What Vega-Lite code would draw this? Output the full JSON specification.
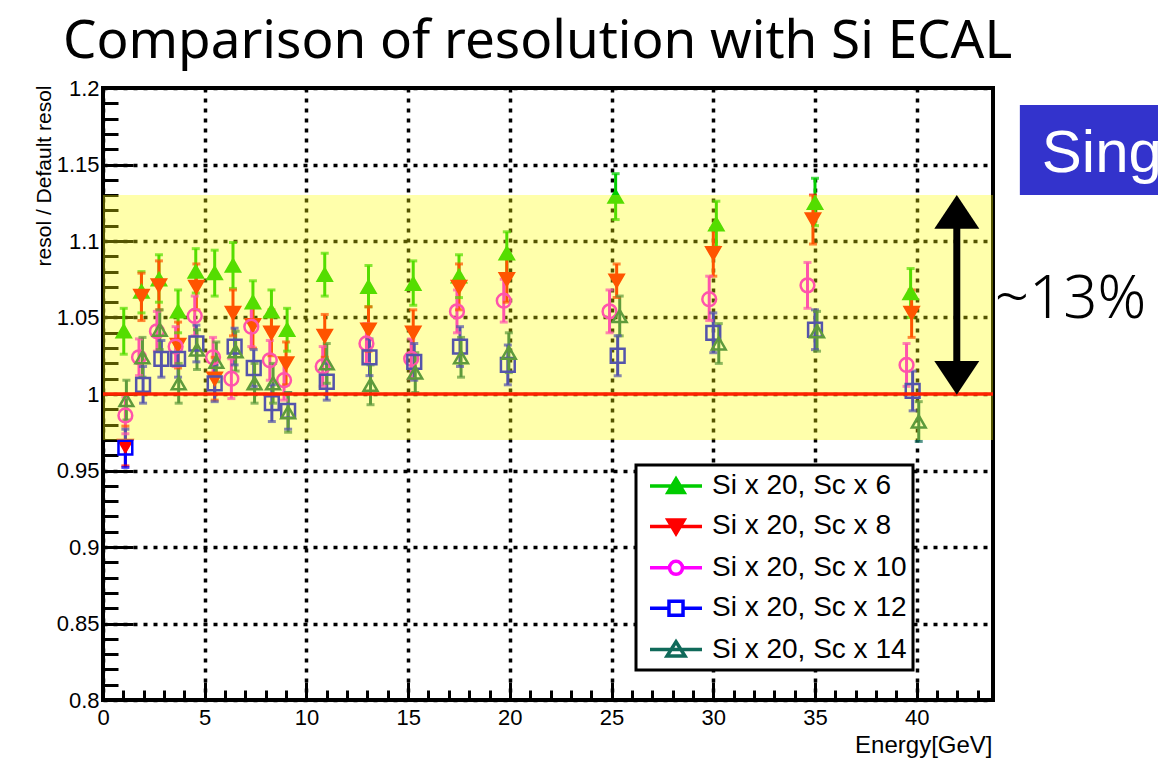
{
  "$schema": "https://vega.github.io/schema/vega-lite/v6.json",
  "width": 890,
  "height": 612,
  "autosize": {"type": "none"},
  "padding": {"left": 103, "top": 88, "right": 165, "bottom": 68},
  "background": "white",
  "title": {
    "text": "Comparison of resolution with Si ECAL",
    "anchor": "start",
    "frame": "group",
    "dx": -40,
    "offset": 8,
    "font": "Noto Sans",
    "fontSize": 53,
    "fontWeight": "normal",
    "color": "black"
  },
  "config": {
    "view": {"stroke": "black", "strokeWidth": 4},
    "font": "Liberation Sans",
    "legend": {
      "orient": "none",
      "legendX": 533,
      "legendY": 377,
      "padding": 6,
      "fillColor": "white",
      "strokeColor": "black",
      "strokeWidth": 3,
      "labelFont": "Liberation Sans",
      "labelFontSize": 28,
      "labelColor": "black",
      "labelLimit": 400,
      "symbolSize": 676,
      "symbolStrokeWidth": 3.5,
      "symbolOffset": 19,
      "labelOffset": 21,
      "rowPadding": 11.4
    }
  },
  "datasets": {
    "pts": [
      {"s": "Si x 20, Sc x 6", "e": 1.02, "r": 1.041, "lo": 1.026, "hi": 1.056},
      {"s": "Si x 20, Sc x 6", "e": 1.89, "r": 1.067, "lo": 1.053, "hi": 1.080},
      {"s": "Si x 20, Sc x 6", "e": 2.75, "r": 1.075, "lo": 1.060, "hi": 1.091},
      {"s": "Si x 20, Sc x 6", "e": 3.69, "r": 1.054, "lo": 1.040, "hi": 1.068},
      {"s": "Si x 20, Sc x 6", "e": 4.56, "r": 1.080, "lo": 1.066, "hi": 1.095},
      {"s": "Si x 20, Sc x 6", "e": 5.49, "r": 1.079, "lo": 1.064, "hi": 1.094},
      {"s": "Si x 20, Sc x 6", "e": 6.39, "r": 1.084, "lo": 1.069, "hi": 1.099},
      {"s": "Si x 20, Sc x 6", "e": 7.37, "r": 1.060, "lo": 1.045, "hi": 1.074},
      {"s": "Si x 20, Sc x 6", "e": 8.28, "r": 1.054, "lo": 1.040, "hi": 1.068},
      {"s": "Si x 20, Sc x 6", "e": 9.05, "r": 1.042, "lo": 1.028, "hi": 1.056},
      {"s": "Si x 20, Sc x 6", "e": 10.9, "r": 1.078, "lo": 1.064, "hi": 1.092},
      {"s": "Si x 20, Sc x 6", "e": 13.05, "r": 1.070, "lo": 1.057, "hi": 1.084},
      {"s": "Si x 20, Sc x 6", "e": 15.25, "r": 1.072, "lo": 1.058, "hi": 1.087},
      {"s": "Si x 20, Sc x 6", "e": 17.5, "r": 1.077, "lo": 1.063, "hi": 1.091},
      {"s": "Si x 20, Sc x 6", "e": 19.85, "r": 1.092, "lo": 1.078, "hi": 1.106},
      {"s": "Si x 20, Sc x 6", "e": 25.2, "r": 1.129, "lo": 1.114, "hi": 1.144},
      {"s": "Si x 20, Sc x 6", "e": 30.15, "r": 1.111, "lo": 1.096, "hi": 1.126},
      {"s": "Si x 20, Sc x 6", "e": 35.0, "r": 1.125, "lo": 1.110, "hi": 1.141},
      {"s": "Si x 20, Sc x 6", "e": 39.7, "r": 1.066, "lo": 1.050, "hi": 1.082},

      {"s": "Si x 20, Sc x 8", "e": 1.1, "r": 0.966, "lo": 0.953, "hi": 0.979},
      {"s": "Si x 20, Sc x 8", "e": 1.89, "r": 1.064, "lo": 1.048, "hi": 1.079},
      {"s": "Si x 20, Sc x 8", "e": 2.75, "r": 1.071, "lo": 1.055, "hi": 1.087},
      {"s": "Si x 20, Sc x 8", "e": 3.69, "r": 1.032, "lo": 1.017, "hi": 1.047},
      {"s": "Si x 20, Sc x 8", "e": 4.59, "r": 1.070, "lo": 1.055, "hi": 1.085},
      {"s": "Si x 20, Sc x 8", "e": 5.49, "r": 1.010, "lo": 0.996, "hi": 1.024},
      {"s": "Si x 20, Sc x 8", "e": 6.39, "r": 1.053, "lo": 1.038, "hi": 1.068},
      {"s": "Si x 20, Sc x 8", "e": 7.37, "r": 1.045, "lo": 1.030, "hi": 1.060},
      {"s": "Si x 20, Sc x 8", "e": 8.28, "r": 1.040, "lo": 1.025, "hi": 1.055},
      {"s": "Si x 20, Sc x 8", "e": 9.0, "r": 1.020, "lo": 1.006, "hi": 1.034},
      {"s": "Si x 20, Sc x 8", "e": 10.9, "r": 1.038, "lo": 1.024, "hi": 1.052},
      {"s": "Si x 20, Sc x 8", "e": 13.05, "r": 1.042, "lo": 1.028, "hi": 1.057},
      {"s": "Si x 20, Sc x 8", "e": 15.25, "r": 1.040, "lo": 1.026, "hi": 1.055},
      {"s": "Si x 20, Sc x 8", "e": 17.5, "r": 1.070, "lo": 1.055, "hi": 1.085},
      {"s": "Si x 20, Sc x 8", "e": 19.85, "r": 1.075, "lo": 1.060, "hi": 1.090},
      {"s": "Si x 20, Sc x 8", "e": 25.25, "r": 1.074, "lo": 1.063, "hi": 1.085},
      {"s": "Si x 20, Sc x 8", "e": 30.0, "r": 1.092, "lo": 1.077, "hi": 1.108},
      {"s": "Si x 20, Sc x 8", "e": 34.9, "r": 1.114, "lo": 1.098, "hi": 1.130},
      {"s": "Si x 20, Sc x 8", "e": 39.75, "r": 1.053, "lo": 1.037, "hi": 1.068},

      {"s": "Si x 20, Sc x 10", "e": 1.1, "r": 0.986, "lo": 0.974, "hi": 0.998},
      {"s": "Si x 20, Sc x 10", "e": 1.77, "r": 1.024, "lo": 1.012, "hi": 1.036},
      {"s": "Si x 20, Sc x 10", "e": 2.65, "r": 1.041, "lo": 1.028, "hi": 1.054},
      {"s": "Si x 20, Sc x 10", "e": 3.57, "r": 1.031, "lo": 1.018, "hi": 1.044},
      {"s": "Si x 20, Sc x 10", "e": 4.51, "r": 1.051, "lo": 1.038, "hi": 1.064},
      {"s": "Si x 20, Sc x 10", "e": 5.41, "r": 1.024, "lo": 1.011, "hi": 1.037},
      {"s": "Si x 20, Sc x 10", "e": 6.31, "r": 1.010, "lo": 0.997, "hi": 1.023},
      {"s": "Si x 20, Sc x 10", "e": 7.29, "r": 1.044, "lo": 1.031, "hi": 1.057},
      {"s": "Si x 20, Sc x 10", "e": 8.2, "r": 1.022, "lo": 1.009, "hi": 1.035},
      {"s": "Si x 20, Sc x 10", "e": 8.9, "r": 1.009, "lo": 0.996, "hi": 1.022},
      {"s": "Si x 20, Sc x 10", "e": 10.8, "r": 1.018, "lo": 1.005, "hi": 1.031},
      {"s": "Si x 20, Sc x 10", "e": 12.95, "r": 1.033, "lo": 1.020, "hi": 1.046},
      {"s": "Si x 20, Sc x 10", "e": 15.15, "r": 1.023, "lo": 1.010, "hi": 1.036},
      {"s": "Si x 20, Sc x 10", "e": 17.4, "r": 1.054, "lo": 1.040, "hi": 1.068},
      {"s": "Si x 20, Sc x 10", "e": 19.7, "r": 1.061, "lo": 1.047, "hi": 1.075},
      {"s": "Si x 20, Sc x 10", "e": 24.9, "r": 1.054, "lo": 1.040, "hi": 1.068},
      {"s": "Si x 20, Sc x 10", "e": 29.8, "r": 1.062, "lo": 1.048, "hi": 1.077},
      {"s": "Si x 20, Sc x 10", "e": 34.63, "r": 1.071, "lo": 1.056, "hi": 1.086},
      {"s": "Si x 20, Sc x 10", "e": 39.5, "r": 1.019, "lo": 1.005, "hi": 1.033},

      {"s": "Si x 20, Sc x 12", "e": 1.1, "r": 0.965, "lo": 0.952, "hi": 0.977},
      {"s": "Si x 20, Sc x 12", "e": 1.97, "r": 1.006, "lo": 0.994, "hi": 1.018},
      {"s": "Si x 20, Sc x 12", "e": 2.87, "r": 1.023, "lo": 1.011, "hi": 1.035},
      {"s": "Si x 20, Sc x 12", "e": 3.69, "r": 1.023, "lo": 1.011, "hi": 1.035},
      {"s": "Si x 20, Sc x 12", "e": 4.59, "r": 1.033, "lo": 1.021, "hi": 1.045},
      {"s": "Si x 20, Sc x 12", "e": 5.49, "r": 1.007, "lo": 0.995, "hi": 1.019},
      {"s": "Si x 20, Sc x 12", "e": 6.47, "r": 1.031, "lo": 1.019, "hi": 1.043},
      {"s": "Si x 20, Sc x 12", "e": 7.41, "r": 1.017, "lo": 1.005, "hi": 1.029},
      {"s": "Si x 20, Sc x 12", "e": 8.3, "r": 0.994, "lo": 0.982, "hi": 1.006},
      {"s": "Si x 20, Sc x 12", "e": 9.1, "r": 0.989, "lo": 0.977, "hi": 1.001},
      {"s": "Si x 20, Sc x 12", "e": 11.0, "r": 1.008, "lo": 0.996, "hi": 1.020},
      {"s": "Si x 20, Sc x 12", "e": 13.1, "r": 1.024, "lo": 1.012, "hi": 1.036},
      {"s": "Si x 20, Sc x 12", "e": 15.3, "r": 1.021, "lo": 1.009, "hi": 1.033},
      {"s": "Si x 20, Sc x 12", "e": 17.55, "r": 1.031, "lo": 1.018, "hi": 1.044},
      {"s": "Si x 20, Sc x 12", "e": 19.9, "r": 1.019, "lo": 1.006, "hi": 1.032},
      {"s": "Si x 20, Sc x 12", "e": 25.3, "r": 1.025, "lo": 1.012, "hi": 1.038},
      {"s": "Si x 20, Sc x 12", "e": 30.0, "r": 1.040, "lo": 1.027, "hi": 1.053},
      {"s": "Si x 20, Sc x 12", "e": 35.0, "r": 1.042, "lo": 1.029, "hi": 1.055},
      {"s": "Si x 20, Sc x 12", "e": 39.8, "r": 1.002, "lo": 0.989, "hi": 1.015},

      {"s": "Si x 20, Sc x 14", "e": 1.15, "r": 0.996, "lo": 0.983, "hi": 1.009},
      {"s": "Si x 20, Sc x 14", "e": 1.94, "r": 1.024, "lo": 1.011, "hi": 1.037},
      {"s": "Si x 20, Sc x 14", "e": 2.79, "r": 1.042, "lo": 1.029, "hi": 1.055},
      {"s": "Si x 20, Sc x 14", "e": 3.72, "r": 1.007, "lo": 0.994, "hi": 1.020},
      {"s": "Si x 20, Sc x 14", "e": 4.62, "r": 1.029, "lo": 1.016, "hi": 1.042},
      {"s": "Si x 20, Sc x 14", "e": 5.57, "r": 1.021, "lo": 1.008, "hi": 1.034},
      {"s": "Si x 20, Sc x 14", "e": 6.52, "r": 1.028, "lo": 1.015, "hi": 1.041},
      {"s": "Si x 20, Sc x 14", "e": 7.45, "r": 1.007, "lo": 0.994, "hi": 1.020},
      {"s": "Si x 20, Sc x 14", "e": 8.36, "r": 1.007, "lo": 0.994, "hi": 1.020},
      {"s": "Si x 20, Sc x 14", "e": 9.1, "r": 0.988, "lo": 0.975, "hi": 1.001},
      {"s": "Si x 20, Sc x 14", "e": 11.0, "r": 1.020, "lo": 1.007, "hi": 1.033},
      {"s": "Si x 20, Sc x 14", "e": 13.15, "r": 1.006, "lo": 0.993, "hi": 1.019},
      {"s": "Si x 20, Sc x 14", "e": 15.35, "r": 1.014, "lo": 1.001, "hi": 1.027},
      {"s": "Si x 20, Sc x 14", "e": 17.6, "r": 1.024, "lo": 1.011, "hi": 1.037},
      {"s": "Si x 20, Sc x 14", "e": 19.95, "r": 1.027, "lo": 1.014, "hi": 1.040},
      {"s": "Si x 20, Sc x 14", "e": 25.4, "r": 1.051, "lo": 1.038, "hi": 1.064},
      {"s": "Si x 20, Sc x 14", "e": 30.27, "r": 1.033, "lo": 1.020, "hi": 1.046},
      {"s": "Si x 20, Sc x 14", "e": 35.1, "r": 1.041, "lo": 1.028, "hi": 1.054},
      {"s": "Si x 20, Sc x 14", "e": 40.1, "r": 0.982, "lo": 0.969, "hi": 0.995}
    ]
  },
  "layer": [
    {
      "data": {"name": "pts"},
      "mark": {"type": "rule", "strokeWidth": 3},
      "encoding": {
        "x": {"field": "e", "type": "quantitative", "scale": {"domain": [0, 43.75], "nice": false, "zero": false},
          "axis": {"orient": "bottom", "values": [1,2,3,4,6,7,8,9,11,12,13,14,16,17,18,19,21,22,23,24,26,27,28,29,31,32,33,34,36,37,38,39,41,42,43],
            "tickSize": -10, "tickWidth": 3, "tickColor": "black", "labels": false, "domain": false, "grid": false, "title": null}},
        "y": {"field": "lo", "type": "quantitative", "scale": {"domain": [0.8, 1.2], "nice": false, "zero": false},
          "axis": {"orient": "left", "values": [0.81,0.82,0.83,0.84,0.86,0.87,0.88,0.89,0.91,0.92,0.93,0.94,0.96,0.97,0.98,0.99,1.01,1.02,1.03,1.04,1.06,1.07,1.08,1.09,1.11,1.12,1.13,1.14,1.16,1.17,1.18,1.19],
            "tickSize": -15, "tickWidth": 3, "tickColor": "black", "labels": false, "domain": false, "grid": false, "title": null}},
        "y2": {"field": "hi"},
        "stroke": {"field": "s", "type": "nominal", "legend": null,
          "scale": {"domain": ["Si x 20, Sc x 6", "Si x 20, Sc x 8", "Si x 20, Sc x 10", "Si x 20, Sc x 12", "Si x 20, Sc x 14"],
            "range": ["#00cc00", "#ff0000", "#ff00ff", "#0000ff", "#106a5a"]}}
      }
    },
    {
      "data": {"name": "pts"},
      "mark": {"type": "tick", "orient": "horizontal", "size": 8, "thickness": 3},
      "encoding": {
        "x": {"field": "e", "type": "quantitative", "axis": null},
        "y": {"field": "lo", "type": "quantitative", "axis": null},
        "color": {"field": "s", "type": "nominal", "legend": null,
          "scale": {"domain": ["Si x 20, Sc x 6", "Si x 20, Sc x 8", "Si x 20, Sc x 10", "Si x 20, Sc x 12", "Si x 20, Sc x 14"],
            "range": ["#00cc00", "#ff0000", "#ff00ff", "#0000ff", "#106a5a"]}}
      }
    },
    {
      "data": {"name": "pts"},
      "mark": {"type": "tick", "orient": "horizontal", "size": 8, "thickness": 3},
      "encoding": {
        "x": {"field": "e", "type": "quantitative", "axis": null},
        "y": {"field": "hi", "type": "quantitative", "axis": null},
        "color": {"field": "s", "type": "nominal", "legend": null,
          "scale": {"domain": ["Si x 20, Sc x 6", "Si x 20, Sc x 8", "Si x 20, Sc x 10", "Si x 20, Sc x 12", "Si x 20, Sc x 14"],
            "range": ["#00cc00", "#ff0000", "#ff00ff", "#0000ff", "#106a5a"]}}
      }
    },
    {
      "data": {"name": "pts"},
      "mark": {"type": "point", "size": 190, "strokeWidth": 2.5, "opacity": 1},
      "encoding": {
        "x": {"field": "e", "type": "quantitative",
          "axis": {"orient": "bottom", "values": [0,5,10,15,20,25,30,35,40], "format": "d",
            "tickSize": -18, "tickWidth": 3, "tickColor": "black", "domain": false,
            "grid": true, "gridColor": "black", "gridWidth": 3.5, "gridDash": [4, 6],
            "labelFont": "Liberation Sans", "labelFontSize": 22, "labelColor": "black", "labelPadding": 25,
            "labelFlush": false, "labelOverlap": false,
            "title": "Energy[GeV]", "titleFont": "Liberation Sans", "titleFontSize": 24, "titleFontWeight": "normal",
            "titleColor": "black", "titleX": 889, "titleY": 45, "titleAlign": "right", "titleBaseline": "middle"}},
        "y": {"field": "r", "type": "quantitative",
          "axis": {"orient": "left", "values": [0.8,0.85,0.9,0.95,1,1.05,1.1,1.15,1.2], "format": "~g",
            "tickSize": -30, "tickWidth": 3, "tickColor": "black", "domain": false,
            "grid": true, "gridColor": "black", "gridWidth": 3.5, "gridDash": [4, 6],
            "labelFont": "Liberation Sans", "labelFontSize": 22, "labelColor": "black", "labelPadding": 34,
            "labelFlush": false, "labelOverlap": false, "labelBaseline": "middle",
            "title": "resol / Default resol", "titleFont": "Liberation Sans", "titleFontSize": 21, "titleFontWeight": "normal",
            "titleColor": "black", "titleAngle": 270, "titleX": -59, "titleY": -3, "titleAlign": "right", "titleBaseline": "middle"}},
        "shape": {"field": "s", "type": "nominal", "legend": null,
          "scale": {"domain": ["Si x 20, Sc x 6", "Si x 20, Sc x 8", "Si x 20, Sc x 10", "Si x 20, Sc x 12", "Si x 20, Sc x 14"],
            "range": ["triangle-up", "triangle-down", "circle", "square", "triangle-up"]}},
        "stroke": {"field": "s", "type": "nominal", "legend": null,
          "scale": {"domain": ["Si x 20, Sc x 6", "Si x 20, Sc x 8", "Si x 20, Sc x 10", "Si x 20, Sc x 12", "Si x 20, Sc x 14"],
            "range": ["#00cc00", "#ff0000", "#ff00ff", "#0000ff", "#106a5a"]}},
        "fill": {"field": "s", "type": "nominal", "legend": null,
          "scale": {"domain": ["Si x 20, Sc x 6", "Si x 20, Sc x 8", "Si x 20, Sc x 10", "Si x 20, Sc x 12", "Si x 20, Sc x 14"],
            "range": ["#00cc00", "#ff0000", "transparent", "transparent", "transparent"]}}
      }
    },
    {
      "data": {"values": [{}]},
      "mark": {"type": "rect", "color": "#ffff00", "opacity": 0.33},
      "encoding": {
        "x": {"datum": 0, "type": "quantitative", "axis": null},
        "x2": {"datum": 43.75},
        "y": {"datum": 0.97, "type": "quantitative", "axis": null},
        "y2": {"datum": 1.13}
      }
    },
    {
      "data": {"values": [{}]},
      "mark": {"type": "rule", "color": "#ff2200", "strokeWidth": 3.5},
      "encoding": {"y": {"datum": 1, "type": "quantitative", "axis": null}}
    },
    {
      "data": {"values": [{}]},
      "mark": {"type": "rule", "color": "black", "strokeWidth": 7},
      "encoding": {
        "x": {"datum": 41.97, "type": "quantitative", "axis": null},
        "y": {"datum": 1.012, "type": "quantitative", "axis": null},
        "y2": {"datum": 1.118}
      }
    },
    {
      "data": {"values": [{}]},
      "mark": {"type": "point", "shape": "M0,-0.75L1,0.75L-1,0.75Z", "size": 2025, "filled": true, "color": "black", "opacity": 1},
      "encoding": {
        "x": {"datum": 41.97, "type": "quantitative", "axis": null},
        "y": {"datum": 1.119, "type": "quantitative", "axis": null}
      }
    },
    {
      "data": {"values": [{}]},
      "mark": {"type": "point", "shape": "M0,0.75L1,-0.75L-1,-0.75Z", "size": 2025, "filled": true, "color": "black", "opacity": 1},
      "encoding": {
        "x": {"datum": 41.97, "type": "quantitative", "axis": null},
        "y": {"datum": 1.0105, "type": "quantitative", "axis": null}
      }
    },
    {
      "data": {"values": [{}]},
      "mark": {"type": "text", "text": "~13%", "font": "Noto Sans", "fontWeight": 300, "fontSize": 60, "color": "black", "align": "left", "baseline": "alphabetic"},
      "encoding": {
        "x": {"datum": 43.84, "type": "quantitative", "axis": null},
        "y": {"datum": 1.0497, "type": "quantitative", "axis": null}
      }
    },
    {
      "data": {"values": [{}]},
      "mark": {"type": "rect", "color": "#3333cc"},
      "encoding": {
        "x": {"datum": 45.07, "type": "quantitative", "axis": null},
        "x2": {"datum": 52},
        "y": {"datum": 1.1301, "type": "quantitative", "axis": null},
        "y2": {"datum": 1.1889}
      }
    },
    {
      "data": {"values": [{}]},
      "mark": {"type": "text", "text": "Sing", "font": "Liberation Sans", "fontSize": 60, "color": "white", "align": "left", "baseline": "alphabetic"},
      "encoding": {
        "x": {"datum": 46.15, "type": "quantitative", "axis": null},
        "y": {"datum": 1.1453, "type": "quantitative", "axis": null}
      }
    },
    {
      "data": {"name": "pts"},
      "transform": [{"filter": "false"}],
      "mark": {"type": "point", "opacity": 1},
      "encoding": {
        "shape": {"field": "s", "type": "nominal", "title": null,
          "legend": {"labelExpr": "datum.label + '\u00a0\u00a0\u00a0\u00a0'"},
          "scale": {"domain": ["Si x 20, Sc x 6", "Si x 20, Sc x 8", "Si x 20, Sc x 10", "Si x 20, Sc x 12", "Si x 20, Sc x 14"],
            "range": [
              "M-2,0H2M0,-0.55L0.62,0.5L-0.62,0.5Z",
              "M-2,0H2M0,0.55L0.62,-0.5L-0.62,-0.5Z",
              "M-2,0H-0.5M0.5,0H2M-0.5,0A0.5,0.5,0,1,0,0.5,0A0.5,0.5,0,1,0,-0.5,0Z",
              "M-2,0H-0.54M0.54,0H2M-0.54,-0.54H0.54V0.54H-0.54Z",
              "M-2,0H2M0,-0.6L0.69,0.5L-0.69,0.5Z"
            ]}},
        "stroke": {"field": "s", "type": "nominal", "title": null,
          "legend": {"labelExpr": "datum.label + '\u00a0\u00a0\u00a0\u00a0'"},
          "scale": {"domain": ["Si x 20, Sc x 6", "Si x 20, Sc x 8", "Si x 20, Sc x 10", "Si x 20, Sc x 12", "Si x 20, Sc x 14"],
            "range": ["#00cc00", "#ff0000", "#ff00ff", "#0000ff", "#106a5a"]}},
        "fill": {"field": "s", "type": "nominal", "title": null,
          "legend": {"labelExpr": "datum.label + '\u00a0\u00a0\u00a0\u00a0'"},
          "scale": {"domain": ["Si x 20, Sc x 6", "Si x 20, Sc x 8", "Si x 20, Sc x 10", "Si x 20, Sc x 12", "Si x 20, Sc x 14"],
            "range": ["#00cc00", "#ff0000", "transparent", "transparent", "transparent"]}}
      }
    }
  ],
  "resolve": {
    "scale": {"shape": "independent", "stroke": "independent", "fill": "independent", "color": "independent"},
    "axis": {"x": "independent", "y": "independent"}
  }
}
